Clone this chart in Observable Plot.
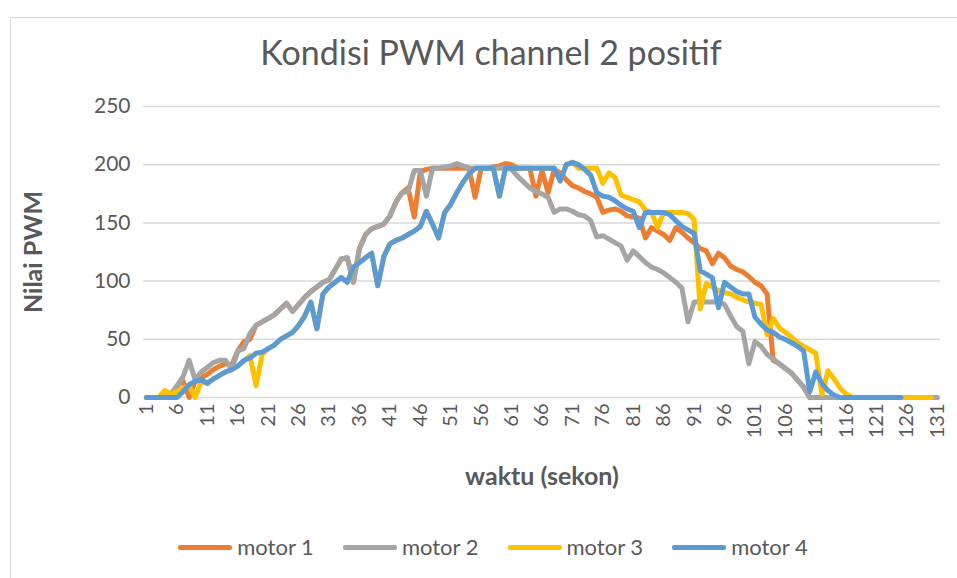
<!DOCTYPE html>
<html><head><meta charset="utf-8">
<script src="https://cdn.jsdelivr.net/npm/d3@7"></script>
<script src="https://cdn.jsdelivr.net/npm/@observablehq/plot@0.6"></script>
<style>
body{margin:0;background:#fff;font-family:Lato,"Open Sans",sans-serif;}
#wrap{position:relative;width:957px;height:578px;overflow:hidden;background:#fff;}
#frame{position:absolute;left:10px;top:17px;width:990px;height:620px;border:1px solid #d9d9d9;box-sizing:border-box;}
#title{position:absolute;top:29px;left:0;width:982px;text-align:center;font-size:34px;color:#595959;line-height:46px;}
#chart{position:absolute;left:0;top:0;}
#legend{position:absolute;top:532px;left:0;width:986px;display:flex;justify-content:center;gap:29px;font-size:22px;color:#595959;line-height:30px;}
.item{display:flex;align-items:center;gap:5px;}
.sw{width:54px;height:5px;border-radius:2px;}
</style></head>
<body><div id="wrap"><div id="frame"></div><div id="title">Kondisi PWM channel 2 positif</div><div id="chart"></div><div id="legend"></div></div>
<script>
const seriesNames = ["motor 1", "motor 2", "motor 3", "motor 4"];
const seriesColors = ["#ED7D31", "#A5A5A5", "#FFC000", "#5B9BD5"];
const xTicks = [1,6,11,16,21,26,31,36,41,46,51,56,61,66,71,76,81,86,91,96,101,106,111,116,121,126,131];
const yTicks = [0,50,100,150,200,250];

const motor1 = [0,0,0,0,0,10,14,0,14,17,20,24,27,29,28,40,48,50,62,65,
  68,71,76,81,74,80,86,91,95,99,101,110,119,120,99,128,140,145,147,149,
  156,168,176,180,155,194,196,197,197,197,197,197,197,197,172,197,197,198,199,201,
  200,197,197,197,173,195,176,196,193,187,182,180,177,175,172,159,161,162,160,156,
  155,154,137,146,143,140,135,146,142,137,133,128,126,115,124,120,113,110,108,104,
  99,96,89,32,29,25,21,15,9,0,0,0,0,0,0,0,0,0,0,0,0,0,0,0,0];
const motor2 = [0,0,0,0,3,10,18,32,15,22,26,30,32,32,24,40,42,55,62,65,
  68,71,76,81,74,80,86,91,95,99,101,110,119,120,99,128,140,145,147,149,
  156,168,176,177,195,195,173,197,197,198,199,201,199,197,197,197,197,197,197,197,
  196,190,185,180,177,175,172,159,162,162,160,157,156,152,138,139,136,133,130,118,
  126,121,116,112,110,107,103,99,94,65,82,82,82,82,82,80,70,61,57,29,
  48,44,37,33,29,25,21,15,9,0,0,0,0,0,0,0,0,0,0,0,
  0,0,0,0,0,0,0,0,0,0,0];
const motor3 = [0,0,0,6,3,5,8,10,0,14,13,16,19,22,24,27,31,36,10,37,
  42,45,50,53,56,62,70,82,59,89,95,99,103,99,112,116,120,124,96,121,
  132,135,137,140,143,147,160,149,137,159,166,176,185,192,197,197,197,197,173,197,
  197,197,197,197,197,197,197,197,186,200,202,197,197,197,197,184,193,189,174,172,
  170,168,161,159,146,159,159,159,159,158,153,76,98,95,92,90,89,86,84,82,
  81,80,54,68,60,56,52,47,44,41,38,3,23,16,8,3,0,0,0,0,
  0,0,0,0,0,0,0,0,0,0];
const motor4 = [0,0,0,0,0,0,5,11,14,15,12,16,19,22,24,27,32,34,38,39,
  42,45,50,53,56,62,70,82,59,89,95,99,103,99,112,116,120,124,96,121,
  132,135,137,140,143,147,160,149,137,159,166,176,185,192,197,197,197,197,173,197,
  197,197,197,197,197,197,197,197,186,200,202,200,196,191,176,173,172,169,165,162,
  160,146,159,159,159,159,157,152,147,144,141,109,106,103,77,99,95,91,89,89,
  69,63,58,56,52,50,47,44,40,5,22,12,6,2,0,0,0,0,0,0,
  0,0,0,0,0];

const allSeries = [motor1, motor2, motor3, motor4];
const rows = [];
allSeries.forEach((vals, k) => vals.forEach((v, i) => rows.push({t: i + 1, v, s: seriesNames[k]})));

const chart = Plot.plot({
  width: 957,
  height: 500,
  marginTop: 106,
  marginBottom: 103,
  marginLeft: 143,
  marginRight: 17,
  style: {fontFamily: "Lato, 'Open Sans', sans-serif", color: "#595959", background: "transparent", overflow: "visible"},
  x: {type: "linear", domain: [0.5, 131.5]},
  y: {domain: [0, 250]},
  color: {domain: seriesNames, range: seriesColors},
  marks: [
    Plot.gridY(yTicks, {stroke: "#d9d9d9", strokeOpacity: 1, strokeWidth: 1.5}),
    Plot.axisY(yTicks, {tickSize: 0, tickPadding: 13, fontSize: 21, label: null, fill: "#595959"}),
    Plot.axisX(xTicks, {tickSize: 0, tickPadding: 6, tickRotate: -90, fontSize: 20, label: null, fill: "#595959", tickFormat: d => String(d)}),
    Plot.lineY(rows, {x: "t", y: "v", z: "s", stroke: "s", strokeWidth: 5, strokeLinejoin: "round", strokeLinecap: "round"}),
    Plot.text(["Nilai PWM"], {text: d => d, frameAnchor: "left", dx: -110, rotate: -90, textAnchor: "middle", lineAnchor: "middle", fontWeight: "bold", fontSize: 25, fill: "#595959"}),
    Plot.text(["waktu (sekon)"], {text: d => d, frameAnchor: "bottom", dy: 79, textAnchor: "middle", lineAnchor: "middle", fontWeight: "bold", fontSize: 25, fill: "#595959"})
  ]
});
document.getElementById("chart").appendChild(chart);

const legend = document.getElementById("legend");
seriesNames.forEach((n, k) => {
  const it = document.createElement("div");
  it.className = "item";
  const sw = document.createElement("div");
  sw.className = "sw";
  sw.style.background = seriesColors[k];
  const tx = document.createElement("span");
  tx.textContent = n;
  it.appendChild(sw);
  it.appendChild(tx);
  legend.appendChild(it);
});
</script>
</body></html>
